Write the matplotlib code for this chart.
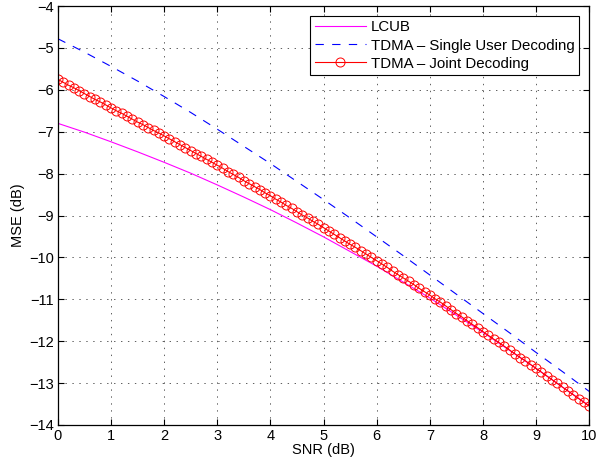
import numpy as np
import matplotlib
matplotlib.use('Agg')
import matplotlib.pyplot as plt

# SNR grid for the joint decoding curve (one marker every 0.1 dB)
snr_fine = np.round(np.arange(0, 10.01, 0.1), 1)
mse_joint = [
    -5.75, -5.82, -5.89, -5.95, -6.02, -6.09, -6.16, -6.23, -6.29, -6.36,
    -6.43, -6.50, -6.56, -6.63, -6.70, -6.77, -6.83, -6.90, -6.97, -7.03,
    -7.10, -7.17, -7.24, -7.31, -7.38, -7.45, -7.52, -7.59, -7.66, -7.73,
    -7.80, -7.87, -7.95, -8.02, -8.09, -8.17, -8.24, -8.31, -8.38, -8.46,
    -8.53, -8.61, -8.68, -8.76, -8.83, -8.91, -8.99, -9.06, -9.14, -9.21,
    -9.29, -9.37, -9.45, -9.53, -9.61, -9.69, -9.76, -9.84, -9.92, -10.00,
    -10.08, -10.16, -10.24, -10.33, -10.41, -10.49, -10.57, -10.65, -10.74, -10.82,
    -10.90, -10.99, -11.07, -11.16, -11.25, -11.34, -11.42, -11.51, -11.60, -11.68,
    -11.77, -11.86, -11.95, -12.03, -12.12, -12.21, -12.30, -12.39, -12.47, -12.56,
    -12.65, -12.74, -12.83, -12.92, -13.01, -13.10, -13.19, -13.28, -13.37, -13.46,
    -13.55,
]

# coarser grid for the two plain lines
snr = [0, 0.5, 1, 1.5, 2, 2.5, 3, 3.5, 4, 4.5, 5, 5.5, 6, 6.5, 7, 7.5, 8, 8.5, 9, 9.5, 10]
mse_lcub = [-6.80, -7.01, -7.24, -7.48, -7.73, -7.99, -8.27, -8.56, -8.86, -9.18, -9.51,
            -9.86, -10.21, -10.59, -10.97, -11.38, -11.79, -12.22, -12.65, -13.10, -13.54]
mse_single = [-4.78, -5.10, -5.44, -5.79, -6.16, -6.54, -6.94, -7.35, -7.76, -8.19, -8.62,
              -9.06, -9.51, -9.96, -10.42, -10.88, -11.34, -11.80, -12.27, -12.73, -13.20]

plt.rcParams['font.family'] = ['Liberation Sans', 'DejaVu Sans']
plt.rcParams['font.size'] = 10.5
plt.rcParams['lines.scale_dashes'] = False

fig = plt.figure(figsize=(5.97, 4.68), dpi=100)
ax = fig.add_axes([0.097, 0.092, 0.890, 0.895])

ax.plot(snr, mse_lcub, color='#ff00ff', lw=0.8, label='LCUB')
ax.plot(snr, mse_single, color='#0000ff', lw=0.8, dashes=(6, 6),
        label='TDMA \u2013 Single User Decoding')
ax.plot(snr_fine, mse_joint, color='#ff0000', lw=0.8, marker='o', ms=6.5,
        mfc='none', mew=0.7, label='TDMA \u2013 Joint Decoding')

ax.set_xlim(0, 10)
ax.set_ylim(-14, -4)
ax.set_xticks(range(0, 11))
ax.set_yticks(range(-14, -3))
ax.tick_params(direction='in', length=4, width=0.8, top=True, right=True, pad=3)
ax.grid(True, linestyle=(0, (1, 4)), color='#444444', lw=0.6)
for s in ax.spines.values():
    s.set_linewidth(0.9)

ax.set_xlabel('SNR (dB)', labelpad=0)
ax.set_ylabel('MSE (dB)', labelpad=3)

leg = ax.legend(loc='upper right', fancybox=False, framealpha=1, edgecolor='black',
                fontsize=10.8, borderaxespad=0.65, handlelength=3.4, labelspacing=0.28,
                borderpad=0.3, handletextpad=0.35)
leg.get_frame().set_linewidth(0.8)

fig.savefig('out.png', dpi=100)
